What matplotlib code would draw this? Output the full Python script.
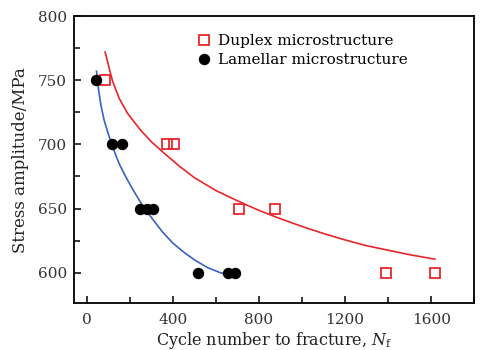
import matplotlib
matplotlib.use('Agg')
import matplotlib.pyplot as plt
from matplotlib.ticker import MultipleLocator

plt.rcParams['font.family'] = ['DejaVu Serif']
plt.rcParams['mathtext.fontset'] = 'dejavuserif'

# measured points
duplex_n = [85, 371, 405, 708, 873, 1391, 1617]
duplex_s = [750, 700, 700, 650, 650, 600, 600]
lamellar_n = [42, 119, 165, 248, 279, 309, 515, 657, 688]
lamellar_s = [750, 700, 700, 650, 650, 650, 600, 600, 600]

# fitted curves
duplex_fit_n = [85, 100, 120, 150, 190, 250, 300, 360, 430, 500, 600, 700,
                800, 900, 1000, 1100, 1200, 1300, 1400, 1500, 1617]
duplex_fit_s = [772, 762, 749, 736, 724, 711, 702, 693, 683, 674, 664, 656,
                648.5, 642, 636, 630.5, 625.5, 621, 617.5, 614, 610.5]
lamellar_fit_n = [45, 55, 65, 80, 100, 120, 150, 180, 220, 260, 300, 350,
                  400, 450, 500, 560, 620, 681]
lamellar_fit_s = [757, 742, 731, 719, 708, 698, 685, 675, 663, 652, 643, 632,
                  623, 616, 610, 604, 600, 597]

red = '#e8262a'
blue = '#3a62c0'

fig = plt.figure(figsize=(4.8, 3.5), dpi=100)
ax = fig.add_axes([0.154, 0.133, 0.834, 0.821])

ax.plot(duplex_fit_n, duplex_fit_s, color=red, lw=1.2)
ax.plot(lamellar_fit_n, lamellar_fit_s, color=blue, lw=1.2)
ax.plot(duplex_n, duplex_s, 's', ms=6.5, mfc='none', mec=red, mew=1.3,
        ls='none', label='Duplex microstructure')
ax.plot(lamellar_n, lamellar_s, 'o', ms=7.2, color='black',
        ls='none', label='Lamellar microstructure')

ax.set_xlim(-60, 1800)
ax.set_ylim(576, 800)
ax.xaxis.set_major_locator(MultipleLocator(400))
ax.xaxis.set_minor_locator(MultipleLocator(200))
ax.yaxis.set_major_locator(MultipleLocator(50))
ax.yaxis.set_minor_locator(MultipleLocator(25))
ax.tick_params(which='both', direction='in', top=False, right=False,
               labelsize=11, labelcolor='#333333', width=1.1)
ax.tick_params(which='major', length=5)
ax.tick_params(which='minor', length=4)
ax.tick_params(axis='x', pad=7)
ax.tick_params(axis='y', pad=5)
for s in ax.spines.values():
    s.set_linewidth(1.3)

ax.set_xlabel('Cycle number to fracture, $N_\\mathrm{f}$', fontsize=11.5,
              color='#222222', labelpad=2)
ax.set_ylabel('Stress amplitude/MPa', fontsize=12, color='#222222', labelpad=6)

ax.legend(loc='upper left', bbox_to_anchor=(0.28, 0.97), frameon=False,
          fontsize=11, handletextpad=0.3, borderaxespad=0.2, labelspacing=0.35,
          handlelength=1.2)

fig.savefig('out.png', dpi=100)
